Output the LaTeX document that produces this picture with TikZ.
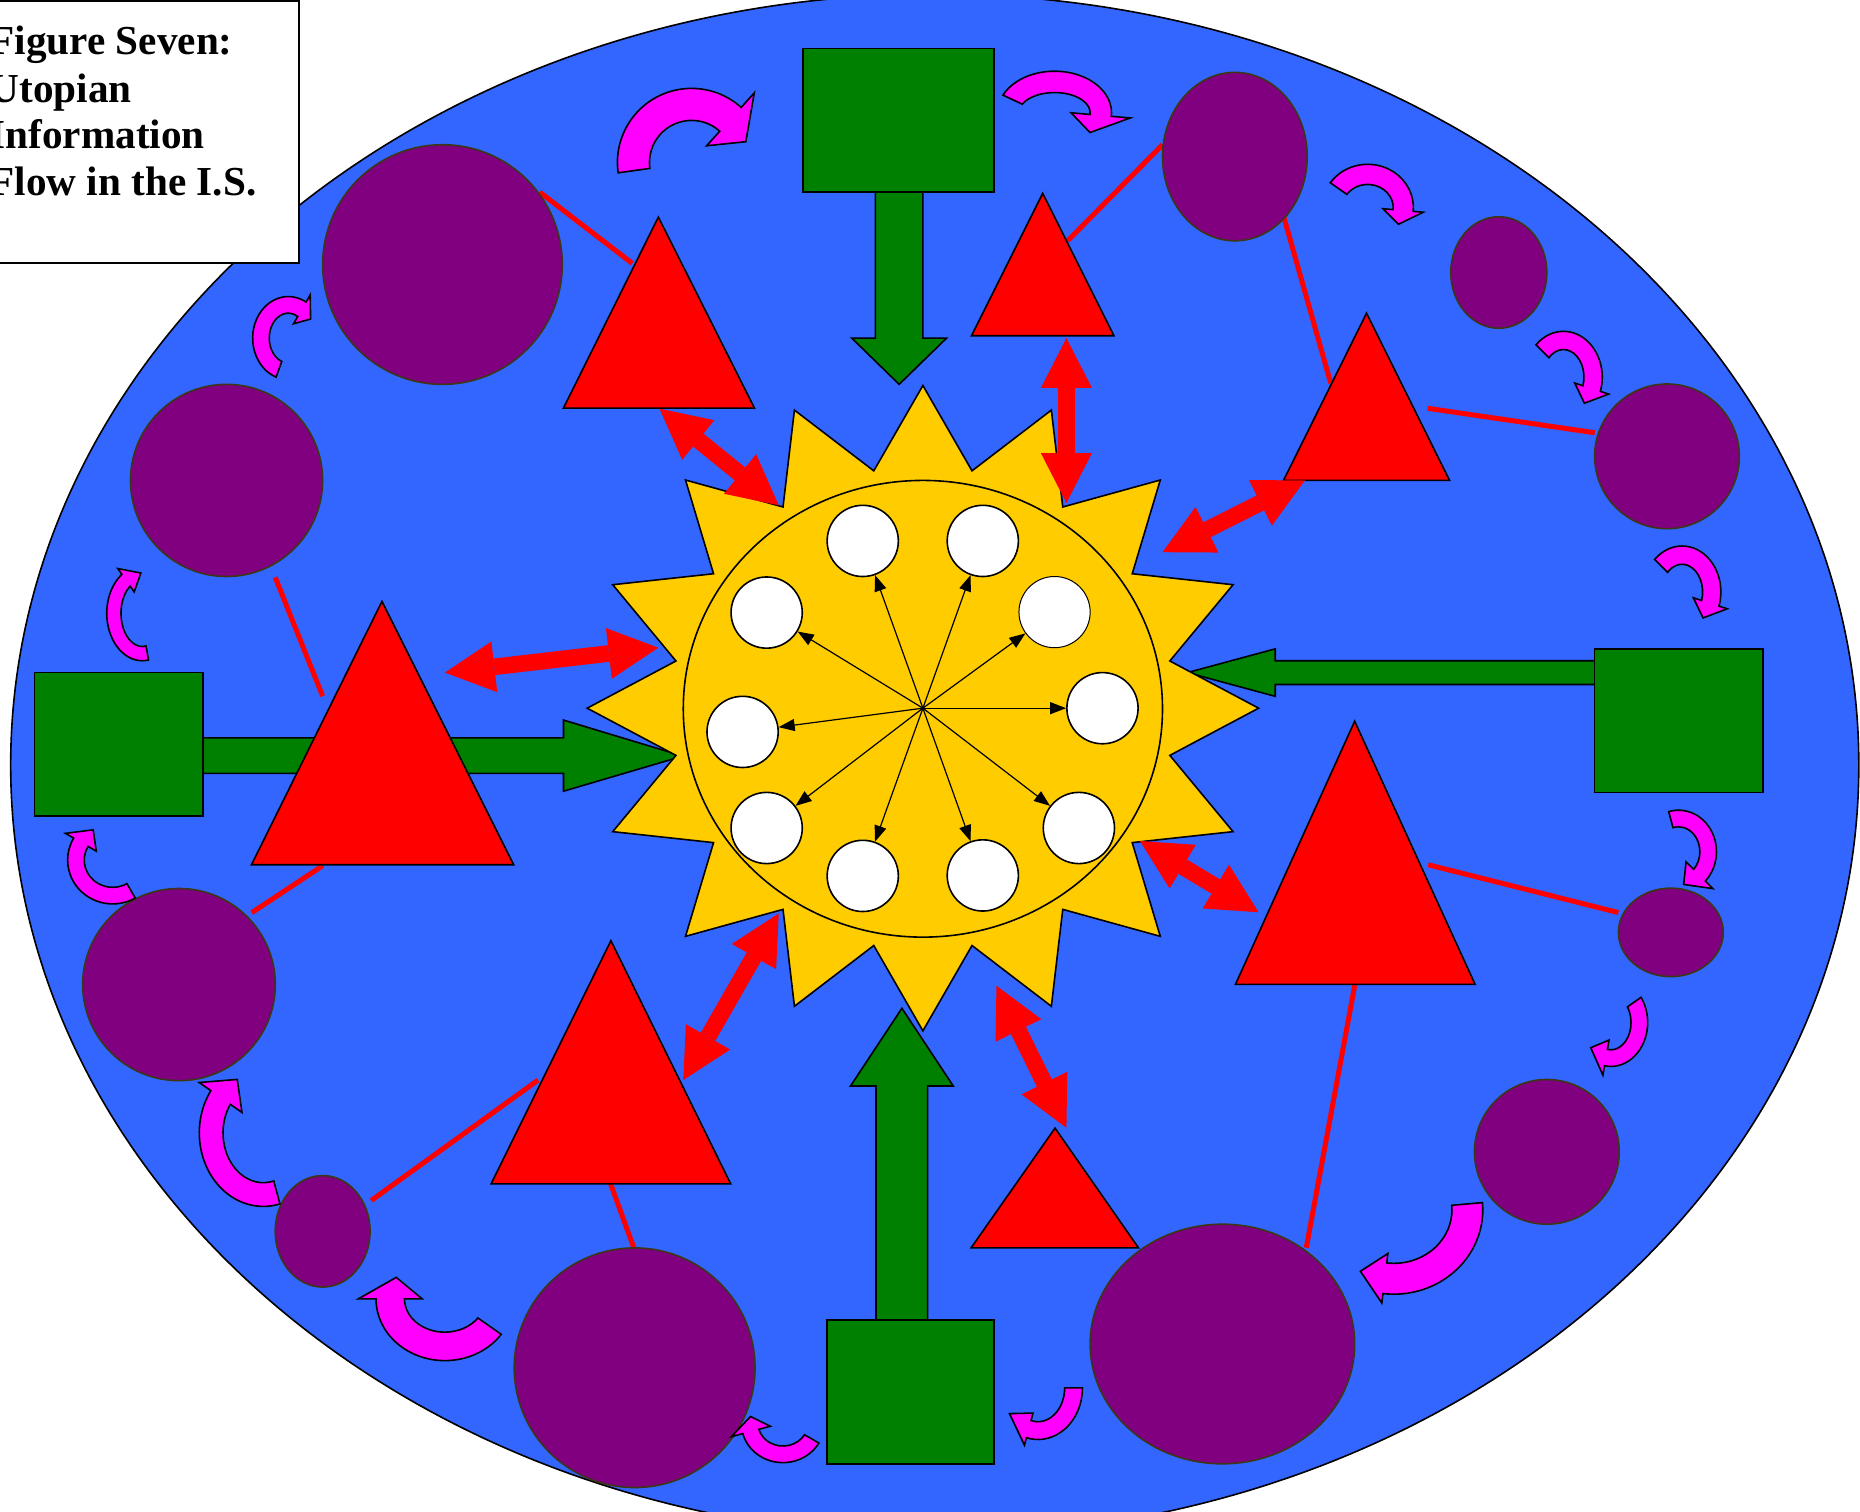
\documentclass[tikz,border=0pt]{standalone}
\usepackage{fontspec}
\setmainfont{Liberation Serif}
\usetikzlibrary{shapes.geometric,arrows.meta}
\definecolor{bgblue}{RGB}{51,102,255}
\definecolor{dgreen}{RGB}{0,128,0}
\definecolor{purp}{RGB}{128,0,128}
\definecolor{purpedge}{RGB}{60,55,20}
\definecolor{sunyel}{RGB}{255,204,0}
\definecolor{mag}{RGB}{255,0,255}
\newcommand\magarr[9]{%
  \pgfmathsetmacro\maXo{#3+#5}\pgfmathsetmacro\maYo{#4+#5}%
  \pgfmathsetmacro\maXi{#3-#5}\pgfmathsetmacro\maYi{#4-#5}%
  \pgfmathsetmacro\maXb{#3+#6}\pgfmathsetmacro\maYb{#4+#6}%
  \pgfmathsetmacro\maXc{#3-#6}\pgfmathsetmacro\maYc{#4-#6}%
  \pgfmathsetmacro\maT{#8+#9}%
  \draw[magarrow] ({#1+\maXo*cos(#7)},{#2+\maYo*sin(#7)})
     arc[start angle=#7,end angle=#8,x radius=\maXo,y radius=\maYo]
     -- ({#1+\maXb*cos(#8)},{#2+\maYb*sin(#8)})
     -- ({#1+#3*cos(\maT)},{#2+#4*sin(\maT)})
     -- ({#1+\maXc*cos(#8)},{#2+\maYc*sin(#8)})
     -- ({#1+\maXi*cos(#8)},{#2+\maYi*sin(#8)})
     arc[start angle=#8,end angle=#7,x radius=\maXi,y radius=\maYi]
     -- cycle;}
\begin{document}
\begin{tikzpicture}[x=0.5931pt,y=-0.5931pt,
  outl/.style={draw=black,line width=0.8pt,line join=miter},
  greenshape/.style={outl,fill=dgreen},
  redtri/.style={outl,fill=red},
  pe/.style 2 args={fill=purp,draw=purpedge,line width=0.8pt,ellipse,inner sep=0pt,
     minimum width=#1*1.1862pt,minimum height=#2*1.1862pt},
  redline/.style={draw=red,line width=2.5pt},
  magarrow/.style={fill=mag,draw=black,line width=0.8pt,line join=miter},
  dbl/.style={draw=red,line width=8.3pt,
     arrows={Triangle[length=24.9pt,width=25.5pt,line width=0pt]-Triangle[length=24.9pt,width=25.5pt,line width=0pt]}},
  wcirc/.style={circle,fill=white,draw=black,line width=0.8pt,minimum size=35.6pt,inner sep=0pt},
  hubarrow/.style={-{Triangle[length=8pt,width=6pt]},line width=0.6pt},
  titletext/.style={anchor=base west,inner sep=0pt,font=\fontsize{20.6pt}{24pt}\selectfont\bfseries}
]
\path[use as bounding box] (0,0) rectangle (1568,1274);
\clip (0,0) rectangle (1568,1274);
\fill[white] (0,0) rectangle (1568,1274);
% main field
\draw[fill=bgblue,line width=0.8pt] (788,645) ellipse [x radius=779,y radius=650];
% green block arrows
\draw[greenshape] (738,160) -- (738,285) -- (718,285) -- (758,324) -- (798,285) -- (778,285) -- (778,160) -- cycle;
\draw[greenshape] (170,622) -- (475,622) -- (475,607) -- (575.6,637.4) -- (475,667) -- (475,652) -- (170,652) -- cycle;
\draw[greenshape] (1346,557) -- (1075,557) -- (1075,547) -- (1001,567) -- (1075,587) -- (1075,577) -- (1346,577) -- cycle;
\draw[greenshape] (738.5,1115) -- (738.5,915.5) -- (717,915.5) -- (760.3,850) -- (803.6,915.5) -- (782,915.5) -- (782,1115) -- cycle;
% green boxes
\draw[greenshape] (677,41) rectangle (838,162);
\draw[greenshape] (29,567) rectangle (171,688);
\draw[greenshape] (1344,547) rectangle (1486,668);
\draw[greenshape] (697,1113) rectangle (838,1234);
% red connecting lines
\draw[redline] (455,162) -- (533,222);
\draw[redline] (980,122) -- (900,203);
\draw[redline] (1082,182) -- (1121.8,323);
\draw[redline] (1203.6,344.2) -- (1344.4,364.8);
\draw[redline] (232,486.7) -- (272,586.8);
\draw[redline] (272,729.8) -- (212.2,769.4);
\draw[redline] (1204,729) -- (1364.3,769.3);
\draw[redline] (1142.1,830.4) -- (1101.2,1051.8);
\draw[redline] (453.6,910.5) -- (313,1012);
\draw[redline] (514.6,997.6) -- (534.5,1052.4);
% red triangles
\draw[redtri] (555,183) -- (636,344) -- (475,344) -- cycle;
\draw[redtri] (879,163) -- (939,283) -- (819,283) -- cycle;
\draw[redtri] (1152,264) -- (1222,405) -- (1082,405) -- cycle;
\draw[redtri] (322,507) -- (433,729) -- (212,729) -- cycle;
\draw[redtri] (1142,608) -- (1243.5,829.8) -- (1041.5,829.8) -- cycle;
\draw[redtri] (515,793) -- (616,998) -- (414,998) -- cycle;
\draw[redtri] (889.4,951) -- (959.8,1052) -- (818.6,1052) -- cycle;
% purple ellipses
\node[pe={101}{101}] (p1) at (373,223) {};
\node[pe={81}{81}] (p2) at (191,405) {};
\node[pe={61}{71}] (p3) at (1041,132) {};
\node[pe={40.5}{47}] (p4) at (1263.5,229.7) {};
\node[pe={61}{61}] (p5) at (1405.3,384.7) {};
\node[pe={44.2}{37.3}] (p6) at (1408.5,786) {};
\node[pe={61}{61}] (p7) at (1304,971) {};
\node[pe={111.5}{101}] (p8) at (1030.5,1133) {};
\node[pe={101.5}{101}] (p9) at (535,1153) {};
\node[pe={40}{47}] (p10) at (272,1038) {};
\node[pe={81.2}{81}] (p11) at (150.9,830) {};
% magenta curved arrows
\magarr{583}{137}{49}{49}{13.5}{30}{-188}{-48}{27}
\magarr{889}{95}{39}{26}{9}{25}{-155}{5}{35}
\magarr{1153}{175}{30}{28}{8.5}{17}{-145}{5}{25}
\magarr{1318}{318}{25}{31}{7.7}{15}{-135}{18}{27}
\magarr{1418}{499}{25}{31}{7.7}{15}{-135}{18}{27}
\magarr{1415}{718}{25}{28}{7}{16}{-105}{45}{35}
\magarr{1358}{862}{24}{30}{7}{15}{-35}{100}{35}
\magarr{1175}{1020}{62}{58}{13}{21}{-5}{97}{20}
\magarr{875}{1170}{30}{36}{7.5}{14}{0}{105}{38}
\magarr{660}{1200}{28}{26}{7}{17}{30}{165}{28}
\magarr{375}{1095}{46}{40}{12}{27}{35}{180}{27}
\magarr{222}{955}{44}{52}{10}{22}{75}{215}{25}
\magarr{95}{725}{31}{30}{7}{15}{60}{210}{28}
\magarr{120}{517}{24}{34}{6}{12}{80}{235}{32}
\magarr{243}{285}{23}{28}{7}{14}{110}{300}{25}
% sun
\draw[outl,fill=sunyel] plot[samples at={0,...,31},variable=\k]
  ({778+283*(1-0.25*mod(\k,2))*cos(90-11.25*\k)},{597-272*(1-0.25*mod(\k,2))*sin(90-11.25*\k)}) -- cycle;
\draw[line width=0.8pt] (778,597.5) ellipse [x radius=202,y radius=192.5];
% white circles
\node[wcirc] (c1) at (727.3,456) {};
\node[wcirc] (c2) at (828.5,456) {};
\node[wcirc] (c3) at (646.3,516.4) {};
\node[wcirc,line width=0.5pt] (c4) at (889,516) {};
\node[wcirc] (c5) at (626,617) {};
\node[wcirc] (c6) at (929.4,597) {};
\node[wcirc] (c7) at (646.3,698) {};
\node[wcirc] (c8) at (909.5,698) {};
\node[wcirc] (c9) at (727.3,738.4) {};
\node[wcirc] (c10) at (828.5,738) {};
\coordinate (hub) at (778,597);
\foreach \i in {1,...,10} \draw[hubarrow] (hub) -- (c\i);
% red double arrows
\draw[dbl] (556,344.5) -- (656.5,426);
\draw[dbl] (899,285) -- (899,424);
\draw[dbl] (1100,405) -- (980,465.5);
\draw[dbl] (375,567) -- (555,546);
\draw[dbl] (961,709) -- (1061,769);
\draw[dbl] (576,910.5) -- (656.5,770);
\draw[dbl] (840,831) -- (899,950.7);
% title box
\draw[fill=white,line width=0.9pt] (-10,1) rectangle (252,222);
\node[titletext] (t1) at (-9,46) {Figure Seven:};
\node[titletext] (t2) at (-9,86) {Utopian};
\node[titletext] (t3) at (-9,125) {Information};
\node[titletext] (t4) at (-9,165) {Flow in the I.S.};
\end{tikzpicture}
\end{document}
